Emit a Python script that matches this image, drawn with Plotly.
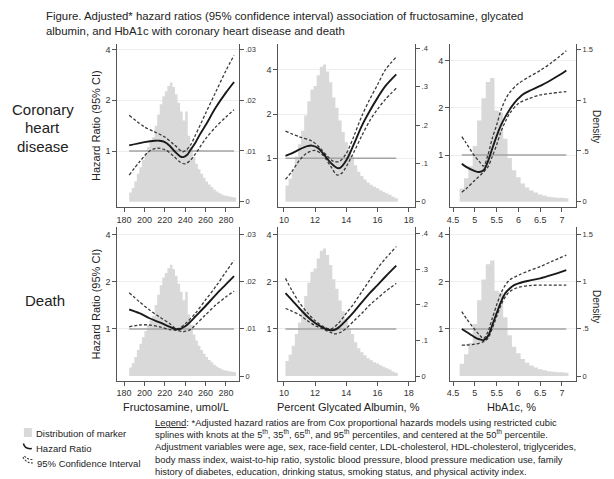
import plotly.graph_objects as go

W, H = 614, 479
FONT = "Arial, Liberation Sans, sans-serif"

# ---------------- data ----------------
# Histograms (density of each marker)
fru_bin_start, fru_bin_width = 185.0, 2.5
fru_density = [.0018, .0027, .0040, .0055, .0068, .0082, .0095, .0108, .0118, .0127,
               .0150, .0172, .0192, .0208, .0218, .0228, .0235, .0226, .0212, .0195,
               .0178, .0160, .0178, .0130, .0108, .0088, .0075, .0064, .0055, .0047,
               .0040, .0034, .0029, .0024, .0020, .0017, .0014, .0012, .0011, .0010,
               .0009, .0008]

ga_bin_start, ga_bin_width = 10.1, 0.2
ga_density = [.042, .060, .085, .118, .150, .185, .225, .262, .293, .302,
              .330, .352, .358, .340, .312, .272, .245, .212, .182, .155,
              .135, .118, .095, .078, .067, .058, .050, .044, .039, .035,
              .030, .026, .022, .018, .013, .009]

a1c_bin_start, a1c_bin_width = 4.65, 0.1
a1c_density = [.13, .23, .35, .55, .80, 1.02, 1.18, 1.22, .90, .88,
               .62, .43, .31, .24, .18, .14, .11, .09, .07, .06,
               .05, .045, .04, .04, .035]

# Coronary heart disease - fructosamine
chd_fru_hr_x = [185, 200, 210, 215, 220, 225, 230, 235, 238, 242, 245, 250, 255, 260, 270, 280, 288]
chd_fru_hr = [1.08, 1.13, 1.15, 1.15, 1.13, 1.07, 0.99, 0.93, 0.92, 0.95, 1.01, 1.12, 1.27, 1.42, 1.81, 2.22, 2.57]
chd_fru_hi_x = [185, 200, 210, 220, 230, 238, 245, 250, 260, 270, 280, 288]
chd_fru_hi = [1.63, 1.39, 1.30, 1.21, 1.08, 0.99, 1.08, 1.24, 1.67, 2.24, 3.0, 3.7]
chd_fru_lo_x = [185, 195, 205, 212, 220, 228, 235, 240, 245, 250, 260, 270, 280, 288]
chd_fru_lo = [0.72, 0.86, 1.0, 1.04, 1.02, 0.94, 0.86, 0.84, 0.88, 0.96, 1.18, 1.39, 1.59, 1.76]

# Coronary heart disease - glycated albumin
chd_ga_hr_x = [10.1, 10.5, 11, 11.5, 11.8, 12.2, 12.6, 13, 13.4, 13.6, 14, 14.5, 15, 15.5, 16, 16.5, 17.2]
chd_ga_hr = [1.04, 1.08, 1.15, 1.21, 1.22, 1.17, 1.05, 0.93, 0.86, 0.86, 0.97, 1.26, 1.67, 2.1, 2.58, 3.1, 3.73]
chd_ga_hi_x = [10.1, 11, 11.8, 12.3, 12.8, 13.2, 13.6, 14, 14.5, 15, 15.5, 16, 16.5, 17.2]
chd_ga_hi = [1.53, 1.4, 1.31, 1.18, 1.03, 0.95, 0.96, 1.08, 1.43, 1.95, 2.52, 3.17, 4.0, 4.9]
chd_ga_lo_x = [10.1, 10.5, 11, 11.5, 12, 12.5, 13, 13.4, 13.7, 14, 14.5, 15, 15.5, 16, 16.5, 17.2]
chd_ga_lo = [0.72, 0.81, 0.97, 1.09, 1.13, 1.05, 0.88, 0.77, 0.79, 0.88, 1.11, 1.43, 1.8, 2.16, 2.52, 3.0]

# Coronary heart disease - HbA1c
chd_a1c_hr_x = [4.7, 4.8, 5.0, 5.1, 5.2, 5.3, 5.4, 5.5, 5.6, 5.7, 5.8, 5.9, 6.0, 6.1, 6.25, 6.5, 6.75, 7.0, 7.1]
chd_a1c_hr = [0.88, 0.84, 0.79, 0.78, 0.80, 0.91, 1.10, 1.32, 1.55, 1.75, 1.95, 2.13, 2.29, 2.43, 2.56, 2.75, 3.0, 3.3, 3.45]
chd_a1c_hi_x = [4.7, 4.8, 5.0, 5.1, 5.2, 5.3, 5.4, 5.5, 5.6, 5.7, 5.8, 6.0, 6.25, 6.5, 6.75, 7.1]
chd_a1c_hi = [1.31, 1.19, 0.98, 0.91, 0.85, 1.0, 1.28, 1.55, 1.93, 2.25, 2.5, 2.85, 3.15, 3.45, 3.85, 4.6]
chd_a1c_lo_x = [4.7, 4.8, 5.0, 5.2, 5.3, 5.4, 5.5, 5.6, 5.7, 5.8, 6.0, 6.25, 6.5, 6.75, 7.1]
chd_a1c_lo = [0.58, 0.61, 0.69, 0.78, 0.84, 0.98, 1.16, 1.41, 1.63, 1.84, 2.13, 2.29, 2.41, 2.47, 2.53]

# Death - fructosamine
dth_fru_hr_x = [185, 195, 205, 215, 225, 230, 235, 240, 245, 250, 260, 270, 280, 288]
dth_fru_hr = [1.33, 1.26, 1.17, 1.10, 1.03, 1.0, 1.0, 1.04, 1.11, 1.2, 1.4, 1.65, 1.92, 2.17]
dth_fru_hi_x = [185, 195, 205, 215, 225, 232, 240, 250, 260, 270, 280, 288]
dth_fru_hi = [1.70, 1.49, 1.32, 1.19, 1.08, 1.0, 1.08, 1.26, 1.53, 1.86, 2.31, 2.74]
dth_fru_lo_x = [185, 195, 205, 215, 225, 232, 238, 245, 250, 260, 270, 280, 288]
dth_fru_lo = [1.03, 1.06, 1.06, 1.03, 0.99, 0.98, 0.96, 0.99, 1.06, 1.23, 1.42, 1.6, 1.74]

# Death - glycated albumin
dth_ga_hr_x = [10.1, 10.5, 11, 11.5, 12, 12.5, 12.9, 13.2, 13.5, 14, 14.5, 15, 15.5, 16, 16.5, 17.2]
dth_ga_hr = [1.69, 1.53, 1.35, 1.2, 1.09, 1.02, 0.985, 0.985, 1.02, 1.14, 1.29, 1.48, 1.69, 1.9, 2.15, 2.53]
dth_ga_hi_x = [10.1, 10.5, 11, 11.5, 12, 12.5, 13, 13.5, 14, 14.5, 15, 15.5, 16, 16.5, 17.2]
dth_ga_hi = [2.1, 1.77, 1.47, 1.27, 1.13, 1.04, 1.0, 1.09, 1.26, 1.46, 1.73, 2.05, 2.43, 2.8, 3.34]
dth_ga_lo_x = [10.1, 10.5, 11, 11.5, 12, 12.5, 13, 13.3, 13.7, 14, 14.5, 15, 15.5, 16, 16.5, 17.2]
dth_ga_lo = [1.35, 1.30, 1.23, 1.13, 1.05, 1.0, 0.95, 0.93, 0.96, 1.01, 1.13, 1.26, 1.42, 1.57, 1.73, 1.95]

# Death - HbA1c
dth_a1c_hr_x = [4.7, 4.8, 5.0, 5.1, 5.2, 5.3, 5.4, 5.5, 5.6, 5.7, 5.8, 5.9, 6.0, 6.25, 6.5, 6.75, 7.1]
dth_a1c_hr = [1.0, 0.96, 0.885, 0.86, 0.85, 0.90, 1.06, 1.26, 1.49, 1.69, 1.81, 1.9, 1.95, 2.03, 2.1, 2.2, 2.37]
dth_a1c_hi_x = [4.7, 4.8, 5.0, 5.1, 5.2, 5.3, 5.4, 5.5, 5.6, 5.7, 5.8, 6.0, 6.25, 6.5, 6.75, 7.1]
dth_a1c_hi = [1.29, 1.17, 0.99, 0.92, 0.87, 0.96, 1.17, 1.42, 1.69, 1.9, 2.05, 2.2, 2.35, 2.49, 2.68, 2.95]
dth_a1c_lo_x = [4.7, 4.8, 5.0, 5.2, 5.3, 5.4, 5.5, 5.6, 5.7, 5.8, 6.0, 6.25, 6.5, 7.1]
dth_a1c_lo = [0.79, 0.79, 0.80, 0.83, 0.87, 1.01, 1.2, 1.42, 1.6, 1.73, 1.84, 1.89, 1.9, 1.9]

# Tick labels
fru_ticks = [180, 200, 220, 240, 260, 280]
ga_ticks = [10, 12, 14, 16, 18]
a1c_ticks = [4.5, 5, 5.5, 6, 6.5, 7]
a1c_ticktext = ["4.5", "5", "5.5", "6", "6.5", "7"]
hr_ticks = [1, 2, 4]
fru_dens_ticks = [0, .01, .02, .03]
fru_dens_text = ["0", ".01", ".02", ".03"]
ga_dens_ticks = [0, .1, .2, .3, .4]
ga_dens_text = ["0", ".1", ".2", ".3", ".4"]
a1c_dens_ticks = [0, .5, 1, 1.5]
a1c_dens_text = ["0", ".5", "1", "1.5"]

x_titles = ["Fructosamine, umol/L", "Percent Glycated Albumin, %", "HbA1c, %"]

# ---------------- helpers ----------------
def fx(p):
    return p / W


def fy(p):
    return 1 - p / H


def step_outline(start, width, dens):
    # closed polygon tracing the histogram outline (bin edges / heights)
    xs, ys = [start], [0]
    for i, d in enumerate(dens):
        xs += [start + width * i, start + width * (i + 1)]
        ys += [d, d]
    xs.append(start + width * len(dens))
    ys.append(0)
    return xs, ys


hists = [
    step_outline(fru_bin_start, fru_bin_width, fru_density),
    step_outline(ga_bin_start, ga_bin_width, ga_density),
    step_outline(a1c_bin_start, a1c_bin_width, a1c_density),
]

curves = {
    (1, 1): (chd_fru_hr_x, chd_fru_hr, chd_fru_hi_x, chd_fru_hi, chd_fru_lo_x, chd_fru_lo),
    (1, 2): (chd_ga_hr_x, chd_ga_hr, chd_ga_hi_x, chd_ga_hi, chd_ga_lo_x, chd_ga_lo),
    (1, 3): (chd_a1c_hr_x, chd_a1c_hr, chd_a1c_hi_x, chd_a1c_hi, chd_a1c_lo_x, chd_a1c_lo),
    (2, 1): (dth_fru_hr_x, dth_fru_hr, dth_fru_hi_x, dth_fru_hi, dth_fru_lo_x, dth_fru_lo),
    (2, 2): (dth_ga_hr_x, dth_ga_hr, dth_ga_hi_x, dth_ga_hi, dth_ga_lo_x, dth_ga_lo),
    (2, 3): (dth_a1c_hr_x, dth_a1c_hr, dth_a1c_hi_x, dth_a1c_hi, dth_a1c_lo_x, dth_a1c_lo),
}

# layout geometry (pixels)
col_x = {1: (115, 237), 2: (276.7, 414), 3: (449.3, 575.7)}
row_y = {1: (44, 207), 2: (227, 380.5)}
x_range = {1: (173.45, 292.7), 2: (9.643, 18.40), 3: (4.431, 7.32)}
x_tick = {1: (fru_ticks, [str(t) for t in fru_ticks]),
          2: (ga_ticks, [str(t) for t in ga_ticks]),
          3: (a1c_ticks, a1c_ticktext)}
dens_tick = {1: (fru_dens_ticks, fru_dens_text), 2: (ga_dens_ticks, ga_dens_text),
             3: (a1c_dens_ticks, a1c_dens_text)}
hr_range = {(1, 1): (-0.3325, 0.6354), (1, 2): (-0.3317, 0.7786), (1, 3): (-0.331, 0.7065),
            (2, 1): (-0.328, 0.649), (2, 2): (-0.328, 0.649), (2, 3): (-0.328, 0.649)}
dens_range = {(1, 1): (-0.00105, 0.0311), (1, 2): (-0.0138, 0.4117), (1, 3): (-0.0523, 1.555),
              (2, 1): (-0.00095, 0.0315), (2, 2): (-0.0126, 0.4185), (2, 3): (-0.0476, 1.575)}

AX = "#555555"
TXT = "#222222"
BAR = "#d9d9d9"

fig = go.Figure()
layout = dict(width=W, height=H, margin=dict(l=0, r=0, t=0, b=0),
              paper_bgcolor="white", plot_bgcolor="white",
              showlegend=False, font=dict(family=FONT, color=TXT))

k = 0
for r in (1, 2):
    for c in (1, 2, 3):
        k += 1
        xkey = "xaxis" if k == 1 else f"xaxis{k}"
        xref = "x" if k == 1 else f"x{k}"
        dn, hn = 2 * k - 1, 2 * k
        dkey = "yaxis" if dn == 1 else f"yaxis{dn}"
        dref = "y" if dn == 1 else f"y{dn}"
        hkey, href = f"yaxis{hn}", f"y{hn}"
        x0, x1 = col_x[c]
        yt, yb = row_y[r]
        layout[xkey] = dict(domain=[fx(x0), fx(x1)], range=list(x_range[c]), anchor=dref,
                            tickmode="array", tickvals=x_tick[c][0], ticktext=x_tick[c][1],
                            ticks="outside", ticklen=4, tickwidth=1, tickcolor=AX,
                            showline=True, linecolor=AX, linewidth=1.2,
                            showgrid=False, zeroline=False,
                            tickfont=dict(size=9, color="#333333"))
        layout[dkey] = dict(domain=[fy(yb), fy(yt)], range=list(dens_range[(r, c)]), anchor=xref,
                            side="right", tickmode="array", tickvals=dens_tick[c][0],
                            ticktext=dens_tick[c][1], ticks="outside", ticklen=4, tickwidth=1,
                            tickcolor=AX, showline=True, linecolor=AX, linewidth=1.2,
                            showgrid=False, zeroline=False,
                            tickfont=dict(size=7.5, color="#333333"))
        layout[hkey] = dict(overlaying=dref, anchor=xref, side="left", type="log",
                            range=list(hr_range[(r, c)]), tickmode="array", tickvals=hr_ticks,
                            ticktext=[str(t) for t in hr_ticks], ticks="outside", ticklen=4,
                            tickwidth=1, tickcolor=AX, showline=True, linecolor=AX,
                            linewidth=1.2, showgrid=True, gridcolor="#ededed", gridwidth=1,
                            zeroline=False, tickfont=dict(size=9, color="#333333"))

        hx, hy = hists[c - 1]
        fig.add_trace(go.Scatter(x=hx, y=hy, mode="none", xaxis=xref, yaxis=dref,
                                 fill="toself", fillcolor=BAR, hoverinfo="skip"))
        cx, cy, ux, uy, lx, ly = curves[(r, c)]
        xmin, xmax = min(cx), max(cx)
        fig.add_trace(go.Scatter(x=[xmin, xmax], y=[1, 1], mode="lines", xaxis=xref, yaxis=href,
                                 line=dict(color="#a3a3a3", width=1.6)))
        for xs, ys in ((ux, uy), (lx, ly)):
            fig.add_trace(go.Scatter(x=xs, y=ys, mode="lines", xaxis=xref, yaxis=href,
                                     line=dict(color="#3a3a3a", width=1.3, dash="3px,2px",
                                               shape="spline", smoothing=0.9)))
        fig.add_trace(go.Scatter(x=cx, y=cy, mode="lines", xaxis=xref, yaxis=href,
                                 line=dict(color="#1a1a1a", width=1.9, shape="spline",
                                           smoothing=0.9)))

annotations = []


def ann(text, x, y, size, xanchor="center", yanchor="middle", angle=0, align="center"):
    annotations.append(dict(text=text, x=fx(x), y=fy(y), xref="paper", yref="paper",
                            showarrow=False, xanchor=xanchor, yanchor=yanchor,
                            textangle=angle, align=align,
                            font=dict(size=size, family=FONT, color=TXT)))


ann("Figure. Adjusted* hazard ratios (95% confidence interval) association of fructosamine, glycated"
    "<br>albumin, and HbA1c with coronary heart disease and death", 41, 8, 11.4,
    xanchor="left", yanchor="top", align="left")

ann("Coronary", 40, 110, 15)
ann("heart", 40, 128, 15)
ann("disease", 40, 146, 15)
ann("Death", 42, 300, 15)

ann("Hazard Ratio (95% CI)", 93, 125.5, 11, angle=-90)
ann("Hazard Ratio (95% CI)", 93, 304, 11, angle=-90)
ann("Density", 597, 126, 10, angle=90)
ann("Density", 597, 306, 10, angle=90)

ann(x_titles[0], 174, 406.5, 11)
ann(x_titles[1], 346.7, 406.5, 11)
ann(x_titles[2], 511, 406.5, 11)

# legend
ann("Distribution of marker", 31, 433, 9.5, xanchor="left")
ann("Hazard Ratio", 31, 448, 9.5, xanchor="left")
ann("95% Confidence Interval", 32, 463, 9.5, xanchor="left")

foot = ("<u>Legend</u>: *Adjusted hazard ratios are from Cox proportional hazards models using restricted cubic<br>"
        "splines with knots at the 5<sup>th</sup>, 35<sup>th</sup>, 65<sup>th</sup>, and 95<sup>th</sup> percentiles, "
        "and centered at the 50<sup>th</sup> percentile.<br>"
        "Adjustment variables were age, sex, race-field center, LDL-cholesterol, HDL-cholesterol, triglycerides,<br>"
        "body mass index, waist-to-hip ratio, systolic blood pressure, blood pressure medication use, family<br>"
        "history of diabetes, education, drinking status, smoking status, and physical activity index.")
ann(foot, 151, 415, 9.4, xanchor="left", yanchor="top", align="left")

shapes = [
    dict(type="rect", xref="paper", yref="paper", x0=fx(21), x1=fx(29), y0=fy(437), y1=fy(428),
         fillcolor=BAR, line=dict(width=0)),
    dict(type="path", xref="paper", yref="paper",
         path=f"M {fx(20.5)},{fy(443.5)} Q {fx(22)},{fy(449.5)} {fx(29)},{fy(448.5)}",
         line=dict(color="#1a1a1a", width=1.5)),
    dict(type="path", xref="paper", yref="paper",
         path=f"M {fx(20)},{fy(457)} Q {fx(23)},{fy(463)} {fx(30)},{fy(463)}",
         line=dict(color="#3a3a3a", width=1.1, dash="2px,1.5px")),
    dict(type="path", xref="paper", yref="paper",
         path=f"M {fx(21.5)},{fy(456)} Q {fx(25)},{fy(460)} {fx(30)},{fy(459.5)}",
         line=dict(color="#3a3a3a", width=1.1, dash="2px,1.5px")),
]

layout["annotations"] = annotations
layout["shapes"] = shapes
fig.update_layout(**layout)
fig.write_html("out.html")
